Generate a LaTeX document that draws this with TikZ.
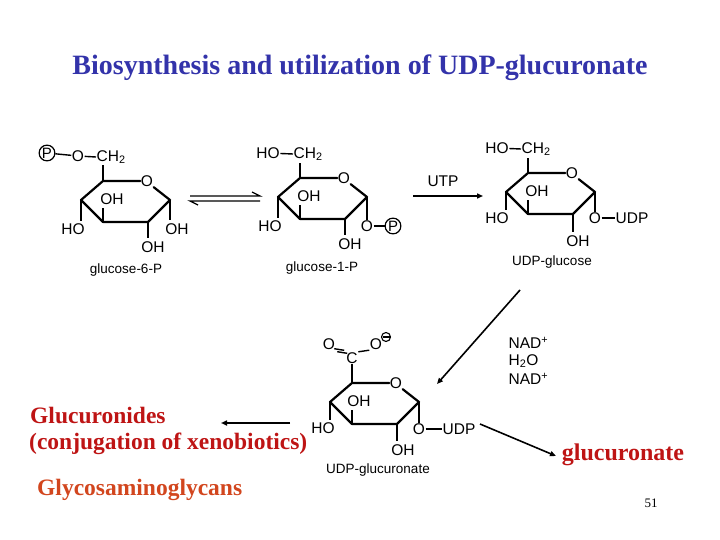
\documentclass[tikz,border=0pt]{standalone}
\usepackage{fontspec}
\setmainfont{Liberation Serif}
\setsansfont{Liberation Sans}
\usetikzlibrary{arrows.meta}
\definecolor{titleblue}{RGB}{51,51,170}
\definecolor{dred}{RGB}{190,20,20}
\definecolor{ored}{RGB}{210,70,30}
\tikzset{
  atom/.style={font=\sffamily\fontsize{15.5}{15.5}\selectfont, inner sep=0.5pt},
  lab/.style={font=\sffamily\fontsize{13.5}{13.5}\selectfont, inner sep=0.5pt},
  bond/.style={line width=1.4pt},
  rbond/.style={line width=2.2pt, line join=round, line cap=round},
  arr/.style={line width=1.6pt, -{Triangle[length=6pt,width=5pt]}},
  redtxt/.style={font=\bfseries\fontsize{23.5}{23.5}\selectfont, anchor=west, inner sep=0},
  pcirc/.style={circle, draw, line width=1.2pt, inner sep=0.5pt, minimum size=15pt, font=\sffamily\fontsize{15}{15}\selectfont}
}
\newcommand\hring[3]{%
  \begin{scope}[shift={(#1,#2)}]
    \node[atom] (#3O) at (44,0) {O};
    \draw[rbond] (#3O.west) -- (0,0) -- (-22,19) -- (0,41) -- (45,41) -- (67,19) -- (#3O.south east);
  \end{scope}}
\newcommand\CHtwo{CH\textsubscript{2}}
\begin{document}
\begin{tikzpicture}[x=1pt,y=-1pt]
\useasboundingbox (0,0) rectangle (720,540);
\node[font=\bfseries\fontsize{28}{28}\selectfont, text=titleblue] (title) at (360,68) {Biosynthesis and utilization of UDP-glucuronate};

% glucose-6-P
\hring{103}{181}{a}
\node[pcirc] (aP) at (47,153) {P};
\node[atom] (aO6) at (78,156) {O};
\node[atom, anchor=west] (aCH) at (96,157) {\CHtwo};
\draw[bond] (aP) -- (aO6); \draw[bond] (aO6) -- (aCH.west);
\draw[bond] (103,181) -- (103,165);
\node[atom] (aHO) at (73,229) {HO}; \draw[bond] (81,200) -- (81,221);
\node[atom] (aOH3) at (112,199) {OH}; \draw[bond] (103,222) -- (103,208);
\node[atom] (aOH2) at (153,247) {OH}; \draw[bond] (148,222) -- (148,238);
\node[atom] (aOH1) at (177,229) {OH}; \draw[bond] (170,200) -- (170,220);
\node[lab] (aname) at (126,270) {glucose-6-P};

% equilibrium
\draw[line width=1.3pt] (190,196) -- (260,196) -- (252,192);
\draw[line width=1.3pt] (260,201) -- (190,201) -- (198,205);

% glucose-1-P
\hring{300}{178}{b}
\node[atom] (bHO6) at (268,153) {HO};
\node[atom, anchor=west] (bCH) at (293,154) {\CHtwo};
\draw[bond] (bHO6) -- (bCH.west);
\draw[bond] (300,178) -- (300,163);
\node[atom] (bHO) at (270,226) {HO}; \draw[bond] (278,197) -- (278,218);
\node[atom] (bOH3) at (309,196) {OH}; \draw[bond] (300,219) -- (300,205);
\node[atom] (bOH2) at (350,244) {OH}; \draw[bond] (345,219) -- (345,235);
\node[atom] (bO1) at (367,226) {O}; \draw[bond] (367,197) -- (bO1);
\node[pcirc] (bP) at (393,226) {P}; \draw[bond] (bO1) -- (bP);
\node[lab] (bname) at (322,268) {glucose-1-P};

% UTP arrow
\coordinate (u1) at (413,196); \coordinate (u2) at (483,196);
\draw[arr] (u1) -- (u2);
\node[atom] (utp) at (443,181) {UTP};

% UDP-glucose
\hring{528}{173}{c}
\node[atom] (cHO6) at (497,148) {HO};
\node[atom, anchor=west] (cCH) at (521,149) {\CHtwo};
\draw[bond] (cHO6) -- (cCH.west);
\draw[bond] (528,173) -- (528,158);
\node[atom] (cHO) at (497,218) {HO}; \draw[bond] (506,192) -- (506,210);
\node[atom] (cOH3) at (537,191) {OH}; \draw[bond] (528,214) -- (528,200);
\node[atom] (cOH2) at (578,241) {OH}; \draw[bond] (573,214) -- (573,232);
\node[atom] (cO1) at (595,218) {O}; \draw[bond] (595,192) -- (cO1);
\node[atom] (cUDP) at (632,218) {UDP}; \draw[bond] (cO1) -- (cUDP);
\node[lab] (cname) at (552,262) {UDP-glucose};

% arrow to glucuronate
\coordinate (d1) at (520,290); \coordinate (d2) at (437,384);
\draw[arr] (d1) -- (d2);
\node[atom, anchor=west] (n1) at (508,343) {NAD\textsuperscript{+}};
\node[atom, anchor=west] (n2) at (508,361) {H\textsubscript{2}O};
\node[atom, anchor=west] (n3) at (508,379) {NAD\textsuperscript{+}};

% UDP-glucuronate
\hring{352}{383}{d}
\node[atom] (dC) at (352,358) {C}; \draw[bond] (352,383) -- (dC);
\node[atom] (dOa) at (329,344) {O};
\draw[bond] ([shift={(1.5,1.5)}]dOa.south east) -- ([shift={(1.5,1.5)}]dC.north west);
\draw[bond] ([shift={(-1.5,-1.5)}]dOa.south east) -- ([shift={(-1.5,-1.5)}]dC.north west);
\node[atom] (dOb) at (376,344) {O}; \draw[bond] (dC.north east) -- (dOb.south west);
\node[circle, draw, line width=1.1pt, inner sep=0pt, minimum size=9pt] (dm) at (386,337) {};
\draw[line width=1.4pt] (382.5,337) -- (389.5,337);
\node[atom] (dHO) at (323,428) {HO}; \draw[bond] (330,402) -- (330,420);
\node[atom] (dOH3) at (359,401) {OH}; \draw[bond] (352,424) -- (352,410);
\node[atom] (dOH2) at (403,450) {OH}; \draw[bond] (397,424) -- (397,441);
\node[atom] (dO1) at (419,429) {O}; \draw[bond] (419,403) -- (dO1);
\node[atom] (dUDP) at (459,429) {UDP}; \draw[bond] (dO1) -- (dUDP);
\node[lab] (dname) at (378,470) {UDP-glucuronate};

% arrows out
\coordinate (e1) at (480,424); \coordinate (e2) at (556,456);
\draw[arr] (e1) -- (e2);
\node[font=\bfseries\fontsize{24}{24}\selectfont, text=dred] (glc) at (623,455) {glucuronate};
\coordinate (f1) at (290,423); \coordinate (f2) at (221,423);
\draw[arr] (f1) -- (f2);
\node[redtxt, text=dred] (g1) at (30,415) {Glucuronides};
\node[redtxt, text=dred] (g2) at (29,444) {(conjugation of xenobiotics)};
\node[redtxt, text=ored] (g3) at (37,490) {Glycosaminoglycans};
\node[font=\fontsize{13}{13}\selectfont] (pg) at (651,503) {51};
\end{tikzpicture}
\end{document}
